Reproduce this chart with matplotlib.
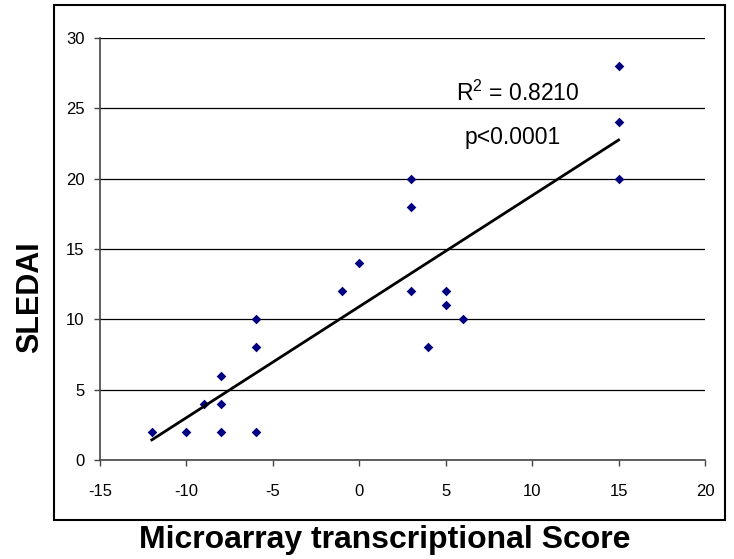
import numpy as np
import matplotlib.pyplot as plt
from matplotlib.patches import Rectangle

plt.rcParams['font.family'] = ['Liberation Sans', 'DejaVu Sans']
plt.rcParams['axes.unicode_minus'] = False

# microarray score vs SLEDAI per patient
score = [-12, -10, -9, -8, -8, -8, -6, -6, -6, -1, 0, 3, 3, 3, 4, 5, 5, 6, 15, 15, 15]
sledai = [2, 2, 4, 6, 4, 2, 10, 8, 2, 12, 14, 20, 18, 12, 8, 12, 11, 10, 28, 24, 20]

x_ticks = [-15, -10, -5, 0, 5, 10, 15, 20]
y_ticks = [0, 5, 10, 15, 20, 25, 30]

fig = plt.figure(figsize=(7.34, 5.59), dpi=100)
ax = fig.add_axes([0.1362, 0.1771, 0.8243, 0.7549])

# outer chart border
fig.patches.append(Rectangle((0.0736, 0.0698), 0.9141, 0.9212, transform=fig.transFigure,
                             fill=False, edgecolor='black', linewidth=1.5))

ax.scatter(score, sledai, marker='D', s=24, color='#000080', zorder=3, linewidths=0)

# linear trend line
k, b = np.polyfit(score, sledai, 1)
xs = np.array([min(score), max(score)])
ax.plot(xs, k * xs + b, color='black', linewidth=2, zorder=4)

ax.text(5.6, 26.1, '$\\mathregular{R^2}$ = 0.8210', fontsize=16.5, va='center')
ax.text(6.1, 22.9, 'p<0.0001', fontsize=16.5, va='center')

ax.set_xlim(-15, 20)
ax.set_ylim(0, 30)
ax.set_xticks(x_ticks)
ax.set_yticks(y_ticks)
ax.yaxis.grid(True, color='black', linewidth=0.9)
ax.set_axisbelow(True)
for side in ['top', 'right']:
    ax.spines[side].set_visible(False)
for side in ['left', 'bottom']:
    ax.spines[side].set_color('#444444')
    ax.spines[side].set_linewidth(1.2)
ax.tick_params(direction='out', length=4, width=1, labelsize=12, color='#444444')
ax.tick_params(axis='x', pad=13)
ax.tick_params(axis='y', pad=7)

# axis titles
fig.text(385 / 734, 1 - 548 / 559, 'Microarray transcriptional Score', fontsize=23,
         fontweight='bold', ha='center', va='baseline')
fig.text(30 / 734, 1 - 297 / 559, 'SLEDAI', fontsize=22, fontweight='bold',
         rotation=90, ha='center', va='center')

fig.savefig('out.png', dpi=100)
